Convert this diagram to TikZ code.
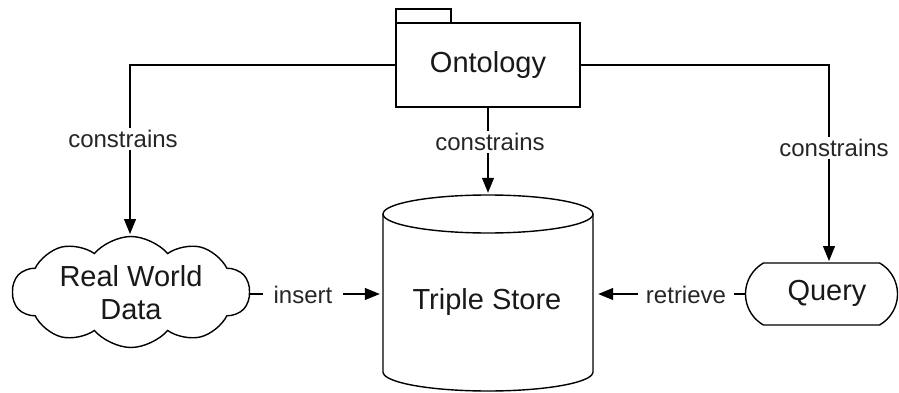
\documentclass[tikz,border=0pt]{standalone}
\usepackage{fontspec}
\setmainfont{Liberation Sans}
\usetikzlibrary{shapes.symbols,shapes.misc,arrows.meta}
\begin{document}
\begin{tikzpicture}[x=1pt,y=-1pt,
  shp/.style={draw=black, line width=1.4pt, fill=white},
  maintxt/.style={font=\fontsize{29}{33}\selectfont, text=black!90, align=center},
  lbl/.style={font=\fontsize{24}{28}\selectfont, text=black!85, fill=white, inner xsep=11pt, inner ysep=2pt},
  edge/.style={draw=black, line width=1.2pt},
  arr/.style={edge, -{Triangle[width=12pt,length=15pt]}}]
\useasboundingbox (0,0) rectangle (899,393);
% Ontology folder
\draw[shp] (396,9) rectangle (451,23);
\node[shp, minimum width=184pt, minimum height=84pt, inner sep=0] (ont) at (488,65) {};
\node[maintxt] (ontt) at (488,65) {Ontology};
% Triple store cylinder
\node[minimum width=210pt, minimum height=197pt, inner sep=0] (ts) at (488,293.5) {};
\draw[shp] (383,214) -- (383,372) arc[start angle=180, end angle=360, x radius=105pt, y radius=19pt] -- (593,214);
\draw[shp] (488,214) ellipse [x radius=105pt, y radius=19pt];
\node[maintxt] (tst) at (487,302) {Triple Store};
% Real world data cloud
\node[shp, cloud, cloud puffs=10, cloud puff arc=100, aspect=2.2, minimum width=237pt, minimum height=111pt, inner sep=0] (rw) at (131,292) {};
\node[maintxt] (rwt) at (131,293) {Real World\\Data};
% Query
\node[shp, rounded rectangle, rounded rectangle arc length=120, minimum width=152pt, minimum height=62pt, inner sep=0] (q) at (821.5,294) {};
\node[maintxt] (qt) at (827,293) {Query};
\coordinate (qin) at (829,263);
\coordinate (rwin) at (130,237);
% connectors
\draw[arr, shorten >=3pt] (ont.west) -| (rwin);
\draw[arr, shorten >=2pt] (ont.south) -- (ts.north);
\draw[arr, shorten >=2pt] (ont.east) -| (qin);
\draw[arr, shorten >=3pt] (rw.east |- 0,294) -- (ts.west |- 0,294);
\draw[arr, shorten >=5pt] (q.west) -- (ts.east |- q.west);
% labels
\node[lbl] (l1) at (123,139) {constrains};
\node[lbl] (l2) at (490,142) {constrains};
\node[lbl] (l3) at (834,148) {constrains};
\node[lbl] (l4) at (303,295) {insert};
\node[lbl, inner xsep=8pt] (l5) at (686,295) {retrieve};
\end{tikzpicture}
\end{document}
